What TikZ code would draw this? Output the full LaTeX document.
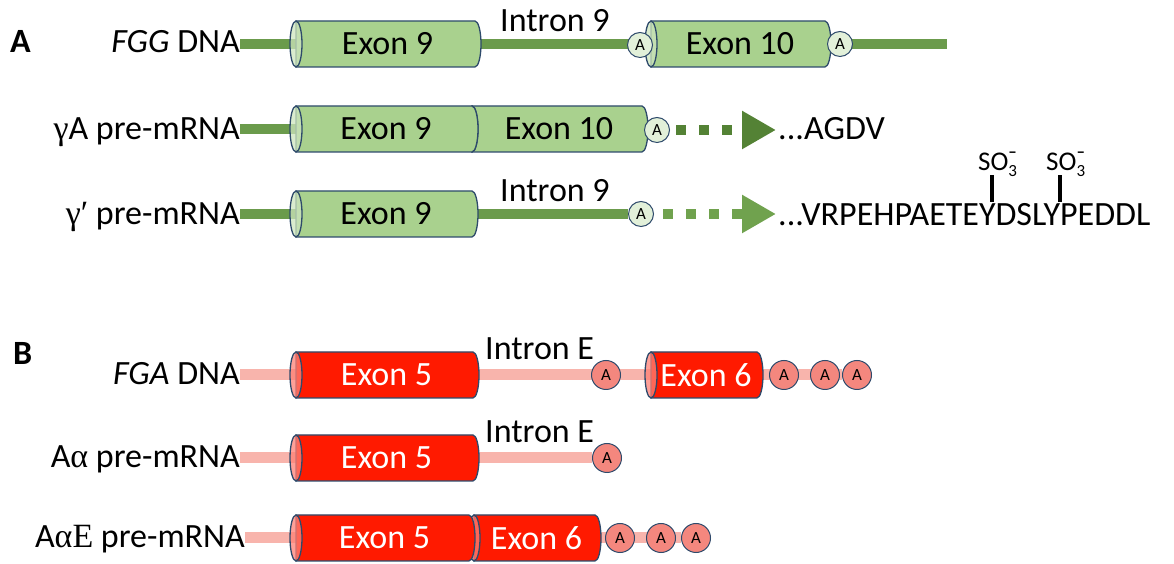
\documentclass[tikz,border=0pt]{standalone}
\usepackage{fontspec}
\setmainfont{Carlito}
\newfontfamily\greekfont{Liberation Serif}
\usetikzlibrary{arrows.meta}
\pgfdeclarelayer{back}
\pgfsetlayers{back,main}

\definecolor{outline}{HTML}{2E4A6B}
\definecolor{exgreen}{HTML}{A9D18E}
\definecolor{exgreenend}{HTML}{CDE5BD}
\definecolor{lngreen}{HTML}{6B9B4C}
\definecolor{arrdark}{HTML}{548235}
\definecolor{arrlight}{HTML}{70A24E}
\definecolor{circgreen}{HTML}{E2F0D9}
\definecolor{exred}{HTML}{FF1A00}
\definecolor{exredend}{HTML}{FF8075}
\definecolor{lnpink}{HTML}{F8B4AC}
\definecolor{circred}{HTML}{F4877E}

\tikzset{
  big/.style={font=\fontsize{34}{40}\selectfont},
  rowlabel/.style={big, inner sep=0pt, anchor=base east},
  exontext/.style={big, inner sep=0pt},
  intronlabel/.style={big, inner sep=0pt, anchor=base west},
  seqtext/.style={big, inner sep=0pt, anchor=base west},
  panel/.style={font=\fontsize{34}{40}\selectfont\bfseries, inner sep=0pt, anchor=base west},
  acircle/.style={circle, draw=outline, line width=1pt, inner sep=0pt,
    minimum size=25pt, font=\fontsize{17}{17}\selectfont, fill=circgreen},
  rcircle/.style={acircle, minimum size=29pt, fill=circred},
  gline/.style={draw=lngreen, line width=10pt},
  pline/.style={draw=lnpink, line width=11pt},
  garrow/.style={line width=10pt, dash pattern=on 10pt off 13pt,
    -{Triangle[length=34pt,width=36pt]}},
  sulfo/.style={font=\fontsize{27}{27}\selectfont, inner sep=0pt, anchor=base west},
  sbar/.style={line width=4pt, draw=black},
}

% cylinder-shaped exon: name, x1, x2, y centre, body colour, end colour, text colour, text
\newcommand\exon[8]{%
  \path[draw=outline, line width=1.3pt, fill=#5]
    (#2,#4+23) -- (#3,#4+23) arc[start angle=90, end angle=-90, x radius=6, y radius=23]
    -- (#2,#4-23) -- cycle;
  \path[draw=outline, line width=1.3pt, fill=#6, fill opacity=0.75]
    (#2,#4) ellipse[x radius=6, y radius=23];
  \node[exontext, text=#7] (#1) at ({(#2+#3)/2+2}, #4) {#8};
}

\newcommand\sothree{SO\rlap{\raisebox{0.5em}{\fontsize{17}{17}\selectfont\bfseries –}}\raisebox{-0.22em}{\fontsize{17}{17}\selectfont 3}}

\begin{document}
\begin{tikzpicture}[x=1pt, y=1pt]
\useasboundingbox (0,0) rectangle (1174,564);

% ---------- panel A ----------
\node[panel] (pA) at (10,511) {A};

% FGG DNA
\node[rowlabel] (lA1) at (240,511) {\textit{FGG} DNA};
\exon{e9a}{296}{475}{520}{exgreen}{exgreenend}{black}{Exon 9}
\exon{e10a}{651}{825}{520}{exgreen}{exgreenend}{black}{Exon 10}
\node[acircle] (cA1a) at (640,519) {A};
\node[acircle] (cA1b) at (840,520) {A};
\coordinate (endA1) at (947,520);
\node[intronlabel] (iA1) at (500,532) {Intron 9};
\begin{pgfonlayer}{back}
  \draw[gline] (lA1.east |- e9a.center) -- (endA1);
\end{pgfonlayer}

% gamma A pre-mRNA
\node[rowlabel] (lA2) at (240,424) {{\greekfont γ}A pre-mRNA};
\exon{e10b}{472}{642}{435}{exgreen}{exgreenend}{black}{Exon 10}
\exon{e9b}{296}{472}{435}{exgreen}{exgreenend}{black}{Exon 9}
\node[acircle] (cA2) at (657,434) {A};
\coordinate (tipA2) at (776,434);
\node[seqtext] (sA2) at (778,424) {...AGDV};
\begin{pgfonlayer}{back}
  \draw[gline] (lA2.east |- e9b.center) -- (e9b.center);
\end{pgfonlayer}
\draw[garrow, draw=arrdark, shorten <=6pt] (cA2.east) -- (tipA2);

% gamma' pre-mRNA
\node[rowlabel] (lA3) at (240,339) {{\greekfont γ′} pre-mRNA};
\exon{e9c}{296}{472}{350}{exgreen}{exgreenend}{black}{Exon 9}
\node[acircle] (cA3) at (641,350) {A};
\node[intronlabel] (iA3) at (500,362) {Intron 9};
\coordinate (tipA3) at (776,350);
\node[seqtext] (sA3) at (778,338) {...VRPEHPAETEYDSLYPEDDL};
\begin{pgfonlayer}{back}
  \draw[gline] (lA3.east |- e9c.center) -- (cA3);
\end{pgfonlayer}
\draw[garrow, draw=arrlight, shorten <=9pt] (cA3.east) -- (tipA3);

% sulfated tyrosines
\node[sulfo] (so1) at (978,393) {\sothree};
\node[sulfo] (so2) at (1046,393) {\sothree};
\coordinate (b1bot) at (992,362);
\coordinate (b2bot) at (1060,362);
\draw[sbar] (b1bot) -- ++(0,27) coordinate (b1top);
\draw[sbar] (b2bot) -- ++(0,27) coordinate (b2top);

% ---------- panel B ----------
\node[panel] (pB) at (13,199) {B};

% FGA DNA
\node[rowlabel] (lB1) at (240,179) {\textit{FGA} DNA};
\exon{e5a}{296}{473}{189}{exred}{exredend}{white}{Exon 5}
\exon{e6a}{651}{757}{189}{exred}{exredend}{white}{Exon 6}
\node[intronlabel] (iB1) at (485,204) {Intron E};
\node[rcircle] (cB1a) at (606,189) {A};
\node[rcircle] (cB1b) at (784,189) {A};
\node[rcircle] (cB1c) at (825,189) {A};
\node[rcircle] (cB1d) at (857,189) {A};
\begin{pgfonlayer}{back}
  \draw[pline] (lB1.east |- e5a.center) -- (cB1d);
\end{pgfonlayer}

% A alpha pre-mRNA
\node[rowlabel] (lB2) at (240,96) {A{\greekfont α} pre-mRNA};
\exon{e5b}{296}{473}{106}{exred}{exredend}{white}{Exon 5}
\node[intronlabel] (iB2) at (485,121) {Intron E};
\node[rcircle] (cB2) at (607,106) {A};
\begin{pgfonlayer}{back}
  \draw[pline] (lB2.east |- e5b.center) -- (cB2);
\end{pgfonlayer}

% A alpha E pre-mRNA
\node[rowlabel] (lB3) at (245,16) {A{\greekfont αE} pre-mRNA};
\exon{e6b}{474}{595}{26}{exred}{exredend}{white}{Exon 6}
\exon{e5c}{296}{469}{26}{exred}{exredend}{white}{Exon 5}
\node[rcircle] (cB3a) at (620,26) {A};
\node[rcircle] (cB3b) at (661,26) {A};
\node[rcircle] (cB3c) at (696,26) {A};
\begin{pgfonlayer}{back}
  \draw[pline] (lB3.east |- e5c.center) -- (cB3c);
\end{pgfonlayer}
\end{tikzpicture}
\end{document}
